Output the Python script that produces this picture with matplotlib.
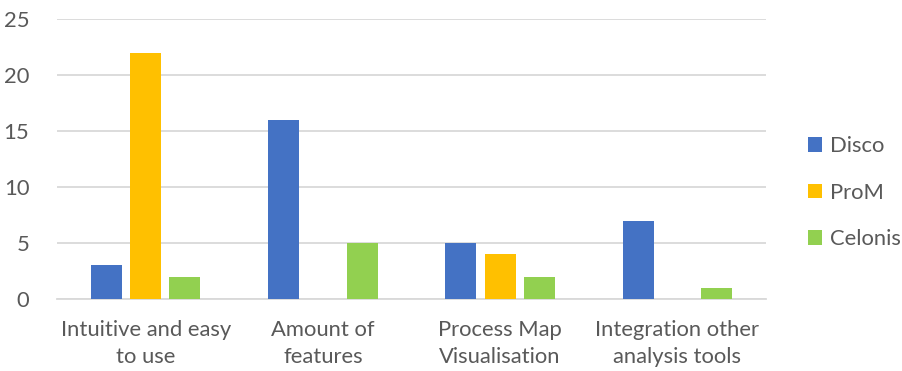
import numpy as np
import matplotlib.pyplot as plt

categories = ["Intuitive and easy\nto use", "Amount of\nfeatures",
              "Process Map\nVisualisation", "Integration other\nanalysis tools"]
disco = [3, 16, 5, 7]
prom = [22, 0, 4, 0]
celonis = [2, 5, 2, 1]

series = [("Disco", disco, "#4472C4"),
          ("ProM", prom, "#FFC000"),
          ("Celonis", celonis, "#92D050")]

plt.rcParams['font.family'] = ['Lato', 'DejaVu Sans']
txt = "#595959"
fs = 15.8

fig = plt.figure(figsize=(9.02, 3.71), dpi=100)
ax = fig.add_axes([0.0632, 0.194, 0.786, 0.755])

x = np.arange(len(categories))
w = 0.175
step = 0.222
handles = []
for i, (name, vals, col) in enumerate(series):
    b = ax.bar(x + (i - 1) * step, vals, w, color=col, label=name, zorder=3)
    handles.append(b)

ax.set_xlim(-0.5, len(categories) - 0.5)
ax.set_ylim(0, 25)
ax.set_yticks(range(0, 26, 5))
ax.yaxis.grid(True, color="#D9D9D9", linewidth=1.3, zorder=0)
ax.set_axisbelow(True)
for s in ["top", "right", "left"]:
    ax.spines[s].set_visible(False)
ax.spines["bottom"].set_color("#D9D9D9")
ax.spines["bottom"].set_linewidth(1.3)

ax.set_xticks(x)
ax.set_xticklabels(categories, fontsize=fs, color=txt, linespacing=1.45)
ax.tick_params(axis="x", length=0, pad=15)
ax.tick_params(axis="y", length=0, pad=20, labelsize=fs, labelcolor=txt)

ax.legend(handles=handles, loc="center left", bbox_to_anchor=(1.031, 0.38),
          frameon=False, fontsize=fs, labelcolor=txt, handlelength=0.65,
          handleheight=0.65, handletextpad=0.35, labelspacing=1.2)

fig.savefig("out.png", dpi=100)
